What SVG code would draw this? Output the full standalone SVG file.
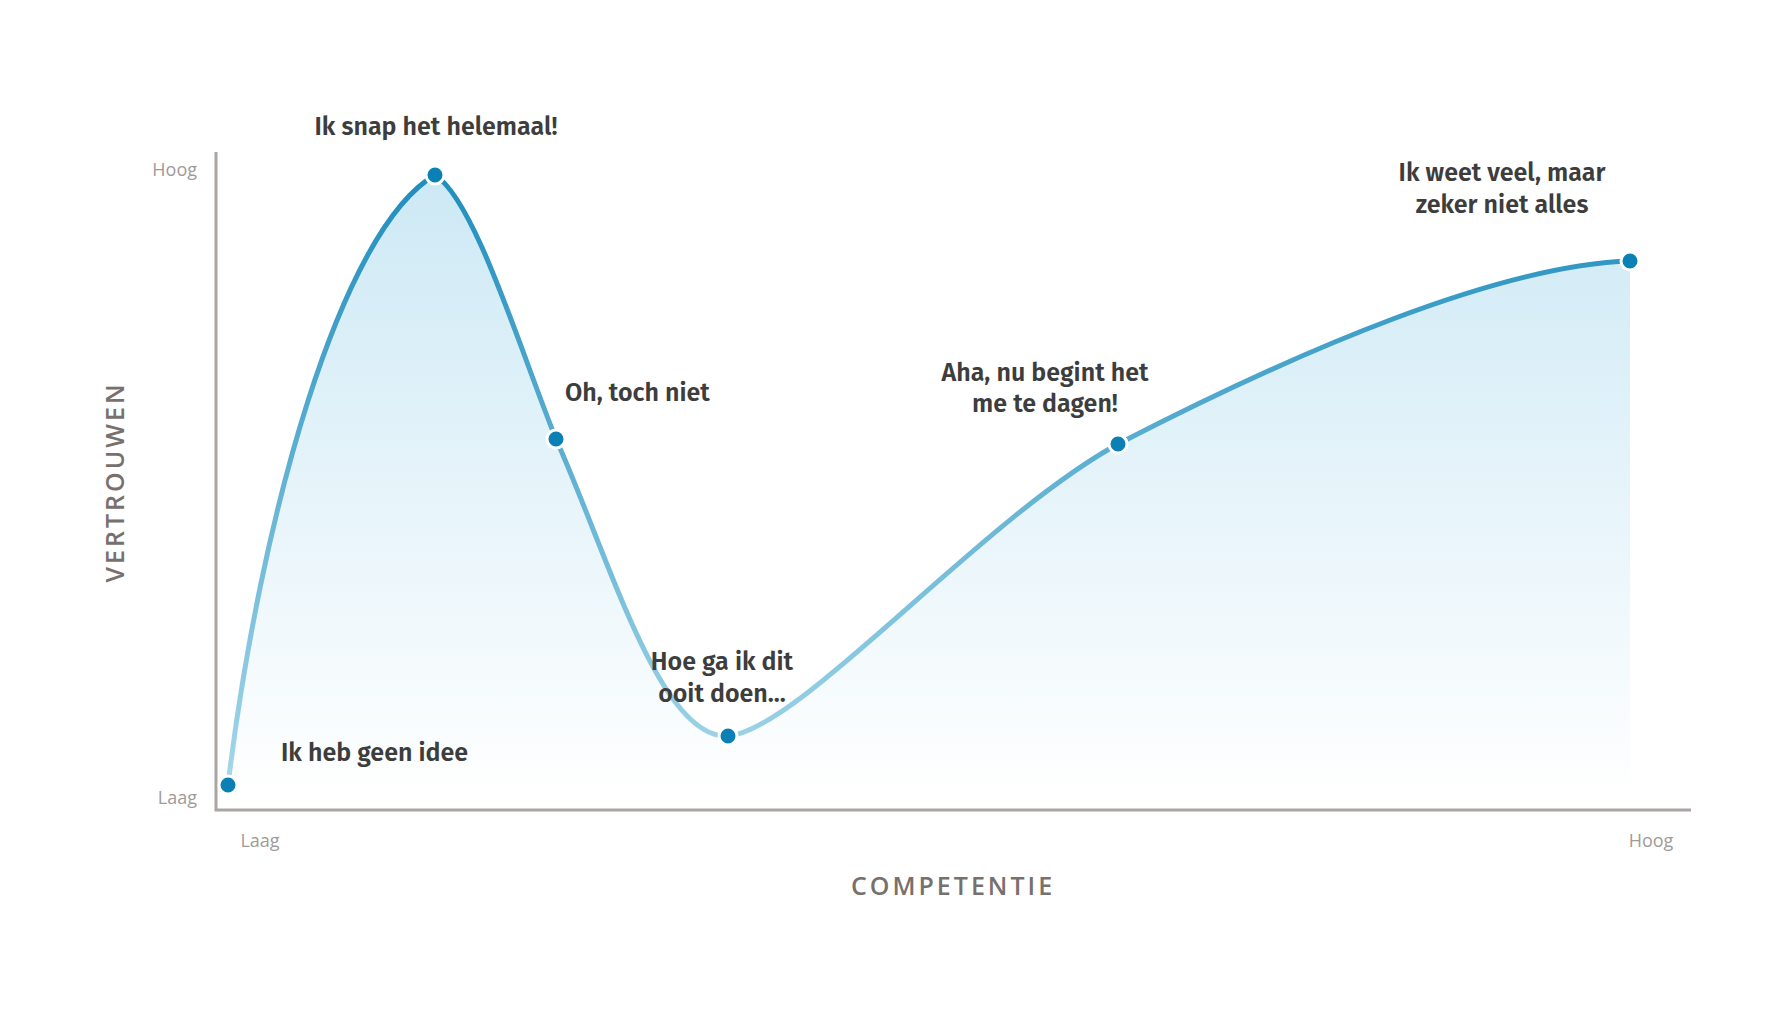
<svg xmlns="http://www.w3.org/2000/svg" width="1792" height="1020" viewBox="0 0 1792 1020">
<defs>
<linearGradient id="fill" x1="0" y1="175" x2="0" y2="800" gradientUnits="userSpaceOnUse"><stop offset="0" stop-color="#cde9f5"/><stop offset="1" stop-color="#ffffff"/></linearGradient>
<linearGradient id="line" x1="0" y1="175" x2="0" y2="790" gradientUnits="userSpaceOnUse"><stop offset="0" stop-color="#1f8dbd"/><stop offset="1" stop-color="#a6d8ea"/></linearGradient>
<style>
.lbl{font-family:"Fira Sans","Open Sans","Noto Sans",sans-serif;font-weight:600;font-size:25px;fill:#3d3d3d}
.ax{font-family:"Open Sans","Noto Sans",sans-serif;font-size:18px;fill:#a09a98}
.tit{font-family:"Open Sans","Noto Sans",sans-serif;font-weight:600;font-size:25px;fill:#77706d;letter-spacing:3px}
.dot{fill:#0a80b5;stroke:#fff;stroke-width:3}
</style>
</defs>
<rect width="1792" height="1020" fill="#fff"/>
<path d="M228,785 C260,520 340,230 435,175 C475,200 520,350 556,439 C610,560 660,740 728,736 C800,730 980,520 1118,444 C1300,350 1500,265 1630,261 L1630,805 L228,805 Z" fill="url(#fill)"/>
<g id="axes" stroke="#aaa4a2" stroke-width="3" fill="none">
<path d="M216,152 L216,810 L1691,810"/>
</g>
<g id="connectors">
<path d="M228,785 C260,520 340,230 435,175 C475,200 520,350 556,439 C610,560 660,740 728,736 C800,730 980,520 1118,444 C1300,350 1500,265 1630,261" fill="none" stroke="url(#line)" stroke-width="5" stroke-linecap="round"/>
</g>
<g id="n1"><circle class="dot" cx="228" cy="785" r="9"/><text class="lbl" x="281" y="761">Ik heb geen idee</text></g>
<g id="n2"><circle class="dot" cx="435" cy="175" r="9"/><text class="lbl" x="436" y="135" text-anchor="middle">Ik snap het helemaal!</text></g>
<g id="n3"><circle class="dot" cx="556" cy="439" r="9"/><text class="lbl" x="565" y="401">Oh, toch niet</text></g>
<g id="n4"><circle class="dot" cx="728" cy="736" r="9"/><text class="lbl" x="722" y="670" text-anchor="middle">Hoe ga ik dit</text><text class="lbl" x="722" y="702" text-anchor="middle">ooit doen...</text></g>
<g id="n5"><circle class="dot" cx="1118" cy="444" r="9"/><text class="lbl" x="1045" y="381" text-anchor="middle">Aha, nu begint het</text><text class="lbl" x="1045" y="412" text-anchor="middle">me te dagen!</text></g>
<g id="n6"><circle class="dot" cx="1630" cy="261" r="9"/><text class="lbl" x="1502" y="181" text-anchor="middle">Ik weet veel, maar</text><text class="lbl" x="1502" y="213" text-anchor="middle">zeker niet alles</text></g>
<g id="labels">
<text class="ax" x="197" y="176" text-anchor="end">Hoog</text>
<text class="ax" x="197" y="804" text-anchor="end">Laag</text>
<text class="ax" x="260" y="847" text-anchor="middle">Laag</text>
<text class="ax" x="1651" y="847" text-anchor="middle">Hoog</text>
<text class="tit" x="953" y="895" text-anchor="middle">COMPETENTIE</text>
<text class="tit" transform="translate(124,482) rotate(-90)" text-anchor="middle">VERTROUWEN</text>
</g>
</svg>
